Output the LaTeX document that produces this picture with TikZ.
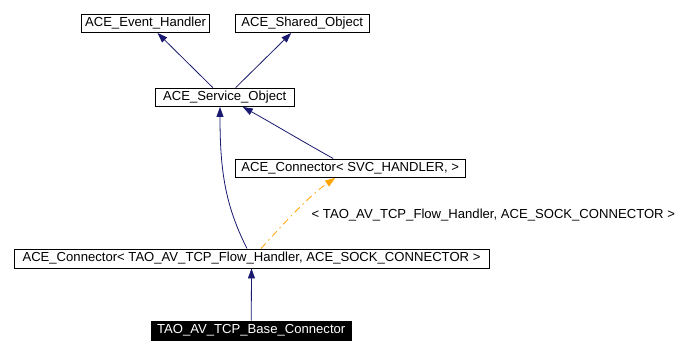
\documentclass[tikz,border=0pt]{standalone}
\usepackage{fontspec}
\setmainfont{Liberation Sans}
\usetikzlibrary{arrows.meta,calc}
\definecolor{edgeblue}{RGB}{25,25,112}
\definecolor{tmplorange}{RGB}{255,165,0}
\begin{document}
\begin{tikzpicture}[x=1pt,y=-1pt,
  cls/.style={draw=black,line width=0.9pt,fill=white,inner sep=0pt,
    font=\fontsize{13.1}{15}\selectfont,text height=9.4pt,text depth=2.6pt},
  leaf/.style={cls,fill=black,text=white},
  inherit/.style={draw=edgeblue,line width=0.8pt,
    arrows={-{Triangle[length=10pt,width=7pt,fill=edgeblue]}}},
  tmpl/.style={draw=tmplorange,line width=0.8pt,dash pattern=on 7pt off 4pt on 1.5pt off 4pt,
    arrows={-{Triangle[length=10pt,width=7pt,fill=tmplorange]}}},
  lbl/.style={font=\fontsize{13.1}{15}\selectfont,inner sep=0pt}]
\useasboundingbox (0,0) rectangle (700,355);
\fill[white] (0,0) rectangle (700,355);

% classes
\node[cls,minimum width=128pt,minimum height=18.5pt] (eh) at (145.5,23.25) {ACE\_Event\_Handler};
\node[cls,minimum width=133.5pt,minimum height=18.5pt] (so) at (302.25,23.25) {ACE\_Shared\_Object};
\node[cls,minimum width=138.5pt,minimum height=18.5pt] (svc) at (224.75,97.25) {ACE\_Service\_Object};
\node[cls,minimum width=230.5pt,minimum height=18.5pt] (cs) at (350.25,168.25) {ACE\_Connector< SVC\_HANDLER, >};
\node[cls,minimum width=475pt,minimum height=19pt] (ct) at (251.5,258.5) {ACE\_Connector< TAO\_AV\_TCP\_Flow\_Handler, ACE\_SOCK\_CONNECTOR >};
\node[leaf,minimum width=200.5pt,minimum height=19pt] (base) at (251.25,330.5) {TAO\_AV\_TCP\_Base\_Connector};

% inheritance edges
\draw[inherit] ($(svc.north)+(-12,0)$) -- ($(eh.south)+(12,0)$);
\draw[inherit] ($(svc.north)+(11,0)$) -- ($(so.south)+(-11,0)$);
\draw[inherit] ($(cs.north)+(-17,0)$) .. controls (300,140) and (270,122) .. ($(svc.south)+(18,0)$);
\draw[inherit] ($(ct.north)+(-4.5,0)$) .. controls (225,205) and (220,170) .. ($(svc.south)+(-4.75,0)$);
\draw[inherit] (base.north) -- (ct.south);

% template instantiation
\draw[tmpl] ($(ct.north)+(9.5,0)$) .. controls (285,222) and (310,195) .. ($(cs.south)+(-15,0)$);
\node[lbl,anchor=west] (targs) at (311.5,215) {< TAO\_AV\_TCP\_Flow\_Handler, ACE\_SOCK\_CONNECTOR >};
\end{tikzpicture}
\end{document}
